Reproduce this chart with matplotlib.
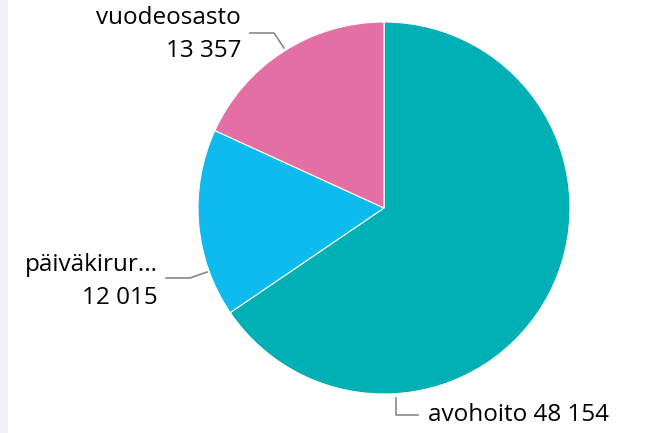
import matplotlib.pyplot as plt
from matplotlib.patches import Rectangle

labels = ["avohoito", "päiväkirur...", "vuodeosasto"]
values = [48154, 12015, 13357]
value_text = ["48 154", "12 015", "13 357"]
colors = ["#01B0B4", "#0DBBEE", "#E46FA5"]

W, H = 646, 433
fig = plt.figure(figsize=(W / 100, H / 100), dpi=100)
ax = fig.add_axes([0, 0, 1, 1])

# thin grey strip on the left edge
ax.add_patch(Rectangle((0, 0), 8, H, color="#F0F2F5", lw=0))

cx, cy, r = 384, H - 208, 186
ax.pie(values, colors=colors, startangle=90, counterclock=False,
       center=(cx, cy), radius=r, frame=True,
       wedgeprops=dict(edgecolor="white", linewidth=0.8))
ax.set_xlim(0, W)
ax.set_ylim(0, H)
ax.set_aspect("auto")
ax.axis("off")

fs = 17.5
font = "Open Sans"
lc = "#888888"

def y(p):
    return H - p

# vuodeosasto
ax.plot([250, 274, 284], [y(33), y(33), y(48)], color=lc, lw=1.2)
ax.text(241, y(18), labels[2], ha="right", va="center", fontsize=fs, family=font)
ax.text(241, y(51), value_text[2], ha="right", va="center", fontsize=fs, family=font)

# paivakirurgia
ax.plot([166, 190, 207], [y(278), y(278), y(272)], color=lc, lw=1.2)
ax.text(158, y(265), labels[1], ha="right", va="center", fontsize=fs, family=font)
ax.text(158, y(298), value_text[1], ha="right", va="center", fontsize=fs, family=font)

# avohoito
ax.plot([396, 396, 418], [y(398), y(415), y(415)], color=lc, lw=1.2)
ax.text(428, y(415), labels[0] + " " + value_text[0], ha="left", va="center",
        fontsize=fs, family=font)

fig.savefig("out.png", dpi=100)
